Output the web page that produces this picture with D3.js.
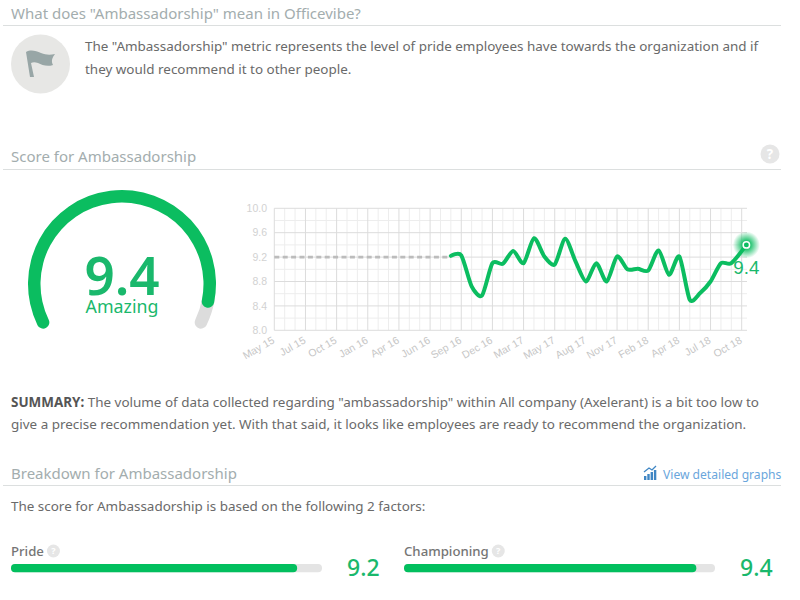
<!DOCTYPE html>
<html>
<head>
<meta charset="utf-8">
<script src="https://cdn.jsdelivr.net/npm/d3@7"></script>
<style>
  html, body { margin: 0; padding: 0; background: #fff; }
  svg { display: block; }
  text { font-family: "Noto Sans", sans-serif; }
  .head { font-size: 15px; fill: #a3adae; }
  .body { font-size: 13.45px; fill: #6a6a6a; }
  .tick { font-family: "Liberation Sans", sans-serif; font-size: 10.5px; fill: #c6c6c6; }
</style>
</head>
<body>
<svg id="chart" width="800" height="600"></svg>
<script>
const xTickLabels = ['May 15', 'Jul 15', 'Oct 15', 'Jan 16', 'Apr 16', 'Jun 16', 'Sep 16', 'Dec 16',
  'Mar 17', 'May 17', 'Aug 17', 'Nov 17', 'Feb 18', 'Apr 18', 'Jul 18', 'Oct 18']
const yTicks = [8.0, 8.4, 8.8, 9.2, 9.6, 10.0]
const placeholderSteps = [0, 17]
const placeholderValue = 9.2
const scoreSteps = [17, 18, 19, 20, 21, 22, 23, 24, 25, 26, 27, 28, 29, 30, 31, 32, 33, 34, 35, 36, 37,
  38, 39, 40, 41, 42, 43, 44, 45.45]
const scoreValues = [9.22, 9.23, 8.72, 8.57, 9.1, 9.09, 9.3, 9.1, 9.51, 9.21, 9.08, 9.5, 9.13, 8.8, 9.1,
  8.8, 9.21, 9.0, 9.01, 8.98, 9.31, 8.91, 9.21, 8.5, 8.61, 8.8, 9.1, 9.1, 9.4]
const gaugeScore = 9.4
const factorNames = ['Pride', 'Championing']
const factorValues = [9.2, 9.4]

const green = '#0bbd60'
const textGreen = '#1ab86c'
const svg = d3.select('#chart')

// section headers
const headers = [
  { label: 'What does "Ambassadorship" mean in Officevibe?', y: 19, rule: 25.5 },
  { label: 'Score for Ambassadorship', y: 162, rule: 169.5 },
  { label: 'Breakdown for Ambassadorship', y: 479, rule: 485.5 }
]
headers.forEach(h => {
  svg.append('text').attr('class', 'head').attr('x', 11).attr('y', h.y).text(h.label)
  svg.append('line').attr('x1', 3).attr('x2', 781).attr('y1', h.rule).attr('y2', h.rule)
    .attr('stroke', '#dcdfdf').attr('stroke-width', 1)
})

// intro block
svg.append('circle').attr('cx', 40.5).attr('cy', 64).attr('r', 29.5).attr('fill', '#e7e7e5')
svg.append('path')
  .attr('d', 'M26 52 C31 49 36 51 41 53 C46 55 50 55 55 54 C52 58 51 61 53 65 C47 67 42 65 38 63 C35 62 33 62 31 63 L34 77 L30 77 Z')
  .attr('fill', '#98a6a6')
svg.append('text').attr('class', 'body').attr('x', 85).attr('y', 51)
  .text('The "Ambassadorship" metric represents the level of pride employees have towards the organization and if')
svg.append('text').attr('class', 'body').attr('x', 85).attr('y', 74)
  .text('they would recommend it to other people.')

// help dots
function helpDot (x, y, r) {
  svg.append('circle').attr('cx', x).attr('cy', y).attr('r', r).attr('fill', '#e6e6e6')
  svg.append('text').attr('x', x).attr('y', y + r * 0.48).attr('text-anchor', 'middle')
    .attr('font-size', r * 1.4).attr('font-weight', 700).attr('fill', '#fff').text('?')
}
helpDot(770, 154, 9.5)

// gauge
const gauge = svg.append('g').attr('transform', 'translate(122,284)')
const gaugeAngle = d3.scaleLinear().domain([0, 10]).range([-120, 120].map(d => d * Math.PI / 180))
const gaugeArc = d3.arc().innerRadius(81.5).outerRadius(94).cornerRadius(6.2)
gauge.append('path').attr('fill', '#dcdcdc')
  .attr('d', gaugeArc({ startAngle: gaugeAngle(9), endAngle: gaugeAngle(10) }))
gauge.append('path').attr('fill', green)
  .attr('d', gaugeArc({ startAngle: gaugeAngle(0), endAngle: gaugeAngle(gaugeScore) }))
gauge.append('text').attr('text-anchor', 'middle').attr('y', 11).attr('font-size', 53)
  .attr('font-weight', 600).attr('fill', textGreen).text(gaugeScore.toFixed(1))
gauge.append('text').attr('text-anchor', 'middle').attr('y', 29).attr('font-size', 17.8)
  .attr('fill', textGreen).text('Amazing')

// line chart
const x = d3.scaleLinear().domain([0, 45]).range([274.3, 741.7])
const y = d3.scaleLinear().domain([8, 10]).range([330.3, 208.3])
const gridRight = 747
const plot = svg.append('g')

const minorSteps = d3.range(0, 46).filter(d => d % 3 !== 0)
const majorSteps = d3.range(0, 46, 3)
const minorValues = d3.range(8.2, 10, 0.4)

plot.selectAll('.v-minor').data(minorSteps).join('line').attr('class', 'v-minor')
  .attr('x1', d => x(d)).attr('x2', d => x(d)).attr('y1', y(10)).attr('y2', y(8))
  .attr('stroke', '#ededed').attr('stroke-width', 1)
plot.selectAll('.h-minor').data(minorValues).join('line').attr('class', 'h-minor')
  .attr('x1', x(0)).attr('x2', gridRight).attr('y1', d => y(d)).attr('y2', d => y(d))
  .attr('stroke', '#ededed').attr('stroke-width', 1)
plot.selectAll('.v-major').data(majorSteps).join('line').attr('class', 'v-major')
  .attr('x1', d => x(d)).attr('x2', d => x(d)).attr('y1', y(10)).attr('y2', y(8))
  .attr('stroke', '#dcdcdc').attr('stroke-width', 1)
plot.selectAll('.h-major').data(yTicks).join('line').attr('class', 'h-major')
  .attr('x1', x(0)).attr('x2', gridRight).attr('y1', d => y(d)).attr('y2', d => y(d))
  .attr('stroke', '#dcdcdc').attr('stroke-width', 1)

plot.selectAll('.y-label').data(yTicks).join('text').attr('class', 'tick y-label')
  .attr('x', 267).attr('y', d => y(d) + 3.6).attr('text-anchor', 'end')
  .style('fill', '#d2d2d2').text(d => d.toFixed(1))
plot.selectAll('.x-label').data(xTickLabels).join('text').attr('class', 'tick x-label')
  .attr('text-anchor', 'end')
  .attr('transform', (d, i) => `translate(${x(i * 3) + 1},${y(8) + 12}) rotate(-30)`)
  .text(d => d)

const dashLine = d3.line().x(d => x(d)).y(y(placeholderValue))
plot.append('path').attr('d', dashLine(placeholderSteps)).attr('fill', 'none')
  .attr('stroke', '#bcbcbc').attr('stroke-width', 2.8).attr('stroke-dasharray', '5 3.4')

const scorePoints = scoreSteps.map((s, i) => [s, scoreValues[i]])
const scoreLine = d3.line().x(d => x(d[0])).y(d => y(d[1])).curve(d3.curveCardinal.tension(0.25))
plot.append('path').attr('d', scoreLine(scorePoints)).attr('fill', 'none')
  .attr('stroke', green).attr('stroke-width', 4).attr('stroke-linejoin', 'round').attr('stroke-linecap', 'round')

const defs = svg.append('defs')
const glow = defs.append('radialGradient').attr('id', 'glow')
glow.append('stop').attr('offset', '35%').attr('stop-color', green).attr('stop-opacity', 0.85)
glow.append('stop').attr('offset', '100%').attr('stop-color', green).attr('stop-opacity', 0)

const last = scorePoints[scorePoints.length - 1]
plot.append('circle').attr('cx', x(last[0])).attr('cy', y(last[1])).attr('r', 13.5).attr('fill', 'url(#glow)')
plot.append('circle').attr('cx', x(last[0])).attr('cy', y(last[1])).attr('r', 3.2).attr('fill', green)
  .attr('stroke', '#fff').attr('stroke-width', 1.5)
plot.append('text').attr('x', x(last[0]) + 13).attr('y', y(last[1]) + 29).attr('text-anchor', 'end')
  .attr('font-size', 18.8).attr('fill', textGreen)
  .style('font-family', '"Liberation Sans", sans-serif').text(last[1].toFixed(1))

// summary
const summary = svg.append('text').attr('class', 'body').attr('x', 11).attr('y', 407)
summary.append('tspan').attr('font-weight', 700).style('fill', '#555').text('SUMMARY:')
summary.append('tspan').text(' The volume of data collected regarding "ambassadorship" within All company (Axelerant) is a bit too low to')
svg.append('text').attr('class', 'body').attr('x', 11).attr('y', 429)
  .text('give a precise recommendation yet. With that said, it looks like employees are ready to recommend the organization.')

// link to the graphs
const iconBars = [4, 6, 8, 10]
svg.selectAll('.link-bar').data(iconBars).join('rect').attr('class', 'link-bar')
  .attr('x', (d, i) => 644 + i * 3.3).attr('y', d => 480 - d).attr('width', 2.4).attr('height', d => d)
  .attr('fill', '#3f86c4')
svg.append('path').attr('d', 'M644 472 L649 468 L652 470 L656 466').attr('fill', 'none')
  .attr('stroke', '#3f86c4').attr('stroke-width', 1.3)
svg.append('text').attr('x', 663).attr('y', 479).attr('font-size', 12.1).attr('fill', '#6aa6dc')
  .text('View detailed graphs')

svg.append('text').attr('class', 'body').attr('x', 11).attr('y', 511)
  .text('The score for Ambassadorship is based on the following 2 factors:')

// factor bars
const barWidth = d3.scaleLinear().domain([0, 10]).range([0, 311])
const factorX = [11, 404]
factorNames.forEach((name, i) => {
  const fx = factorX[i]
  const label = svg.append('text').attr('x', fx).attr('y', 555.5).attr('font-size', 13.2)
    .attr('font-weight', 500).attr('fill', '#757575').text(name)
  helpDot(fx + label.node().getComputedTextLength() + 9.5, 551, 6.5)
  svg.append('rect').attr('x', fx).attr('y', 564).attr('width', barWidth(10)).attr('height', 8.2)
    .attr('rx', 4).attr('fill', '#e4e4e4')
  svg.append('rect').attr('x', fx).attr('y', 564).attr('width', barWidth(factorValues[i])).attr('height', 8.2)
    .attr('rx', 4).attr('fill', '#02bf5e')
  svg.append('text').attr('x', fx + 336).attr('y', 576).attr('font-size', 23).attr('font-weight', 500)
    .attr('fill', textGreen).text(factorValues[i].toFixed(1))
})
</script>
</body>
</html>
